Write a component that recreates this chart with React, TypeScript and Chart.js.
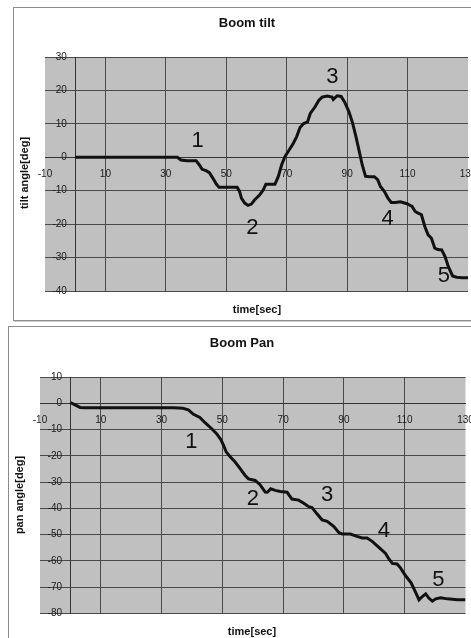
import React, { useEffect, useRef } from 'react';
import { Chart, registerables } from 'chart.js';

Chart.register(...registerables);

// ---------- data ----------
const xTickValues = [-10, 10, 30, 50, 70, 90, 110, 130];
const tiltYTickValues = [-40, -30, -20, -10, 0, 10, 20, 30];
const panYTickValues = [-80, -70, -60, -50, -40, -30, -20, -10, 0, 10];

const tiltTime = [0, 5, 10, 15, 20, 25, 30, 33.8, 35, 37, 40, 41.1, 42, 43.3, 44.4, 45.6, 46.7, 47.6, 50, 52, 53.6, 54.4, 55, 56.1, 57.2, 58.3, 59.4, 61.1, 62.2, 63.1, 64.5, 66.1, 67.2, 68.3, 69.4, 70.6, 72.2, 73.3, 74.4, 75.6, 76.9, 77.8, 79.4, 80.6, 81.7, 83.4, 85, 85.4, 86.7, 88, 89.2, 90.6, 91.7, 92.8, 93.9, 95, 96.1, 97.5, 99, 100.1, 101, 102.3, 103.5, 104.6, 106, 107.6, 109.8, 111.5, 112.5, 113.5, 114.6, 115.7, 116.8, 117.9, 119, 120, 121.3, 122.4, 123.5, 124.9, 126.2, 128, 130];
const tiltAngle = [0, 0, 0, 0, 0, 0, 0, 0, -0.8, -1, -1, -2.3, -3.6, -4, -4.6, -6.3, -8, -9, -9, -9, -9, -10.2, -12.2, -13.7, -14.4, -14, -12.7, -11.2, -9.8, -8.1, -8.1, -8.1, -5.8, -2.3, 0.2, 1.9, 4.2, 6.2, 8.9, 10.1, 10.6, 13.1, 15.1, 17, 18, 18.3, 18, 17.3, 18.4, 18.2, 16.5, 13.6, 10.6, 6.6, 2.2, -2.3, -5.7, -5.8, -5.8, -6.7, -8.7, -10.2, -12.2, -13.5, -13.5, -13.3, -13.9, -14.7, -16.2, -16.7, -17.2, -20.7, -23.2, -24.2, -27.2, -27.6, -27.7, -29.7, -32.7, -35.5, -35.9, -36, -36];

const panTime = [0, 1.5, 3.2, 5, 10, 15, 20, 25, 30, 34, 37, 38.8, 40.5, 42.6, 44.3, 46.5, 48.1, 49.5, 50.4, 51.2, 52.5, 54.2, 55.8, 57.5, 58.6, 60.8, 62.4, 64.1, 64.8, 65.9, 67.4, 69.1, 71.3, 72.9, 75.1, 76.8, 78.4, 79.5, 81.2, 82.8, 84.5, 86.7, 88.3, 89.4, 92.1, 94.3, 96, 97.6, 99.3, 101.5, 103.7, 104.8, 105.9, 107.5, 108.6, 110.3, 112.1, 113.6, 114.7, 115.8, 116.9, 118, 119.1, 120.2, 121.8, 124, 127.3, 130];
const panAngle = [0.3, -0.6, -1.6, -1.7, -1.7, -1.7, -1.7, -1.7, -1.7, -1.7, -1.9, -2.5, -4.2, -5.4, -7.4, -9.7, -11.6, -13.8, -16, -18.4, -20.3, -22.4, -24.8, -27.5, -28.8, -29.4, -31, -33.8, -33.9, -32.6, -33.2, -33.6, -33.9, -36.5, -36.9, -38.1, -39.4, -39.7, -42.2, -44.4, -45, -47, -49.2, -49.8, -49.8, -50.7, -51.3, -51.3, -52.6, -54.9, -57.2, -59.3, -61, -61.2, -62.7, -65.7, -68.4, -72, -74.9, -73.6, -72.6, -74.3, -75.4, -74.5, -74.1, -74.5, -74.8, -74.8];

const markLabels = ['1', '2', '3', '4', '5'];
const tiltMarkX = [40.5, 58.6, 85.1, 103.4, 122];
const tiltMarkY = [4.9, -21.2, 24, -18.5, -35.4];
const panMarkX = [39.8, 60, 84.5, 103.1, 121.1];
const panMarkY = [-14.9, -36.5, -35, -48.5, -67.3];

const FONT = '"Liberation Sans", Arial, Helvetica, sans-serif';

interface PanelSpec {
  title: string;
  xTitle: string;
  yTitle: string;
  time: number[];
  angle: number[];
  yTicks: number[];
  markX: number[];
  markY: number[];
  width: number;
  height: number;
  padding: { left: number; top: number; right: number; bottom: number };
  titlePos: [number, number];
  xTitlePos: [number, number];
  yTitlePos: [number, number];
}

function makeDecor(spec: PanelSpec) {
  return {
    id: 'decor',
    beforeDraw(chart: any) {
      const { ctx, chartArea: a } = chart;
      ctx.save();
      ctx.fillStyle = '#c0c0c0';
      ctx.fillRect(a.left, a.top, a.right - a.left, a.bottom - a.top);
      ctx.restore();
    },
    afterDatasetsDraw(chart: any) {
      const { ctx } = chart;
      const xs = chart.scales.x;
      const ys = chart.scales.y;
      ctx.save();
      ctx.fillStyle = '#111';
      ctx.textAlign = 'center';
      ctx.textBaseline = 'middle';
      ctx.font = '22px ' + FONT;
      markLabels.forEach((t, i) => {
        ctx.fillText(t, xs.getPixelForValue(spec.markX[i]), ys.getPixelForValue(spec.markY[i]));
      });
      ctx.font = 'bold 13px ' + FONT;
      ctx.fillText(spec.title, spec.titlePos[0], spec.titlePos[1]);
      ctx.font = 'bold 11px ' + FONT;
      ctx.fillText(spec.xTitle, spec.xTitlePos[0], spec.xTitlePos[1]);
      ctx.translate(spec.yTitlePos[0], spec.yTitlePos[1]);
      ctx.rotate(-Math.PI / 2);
      ctx.fillText(spec.yTitle, 0, 0);
      ctx.restore();
    },
  };
}

function Panel({ spec, style }: { spec: PanelSpec; style: React.CSSProperties }) {
  const ref = useRef<HTMLCanvasElement | null>(null);
  useEffect(() => {
    if (!ref.current) return;
    const xMin = xTickValues[0];
    const xMax = xTickValues[xTickValues.length - 1];
    const yMin = spec.yTicks[0];
    const yMax = spec.yTicks[spec.yTicks.length - 1];
    const chart = new Chart(ref.current, {
      type: 'line',
      data: {
        datasets: [
          {
            data: spec.time.map((t, i) => ({ x: t, y: spec.angle[i] })),
            borderColor: '#111',
            borderWidth: 3,
            pointRadius: 0,
            tension: 0,
            fill: false,
          },
        ],
      },
      options: {
        responsive: false,
        animation: false,
        events: [],
        layout: { padding: spec.padding },
        plugins: { legend: { display: false }, tooltip: { enabled: false }, title: { display: false } },
        scales: {
          x: {
            type: 'linear',
            min: xMin,
            max: xMax,
            position: { y: 0 } as any,
            ticks: {
              stepSize: xTickValues[1] - xTickValues[0],
              autoSkip: false,
              maxRotation: 0,
              padding: 3,
              color: '#1a1a1a',
              font: { family: FONT, size: 10 },
            },
            grid: {
              color: (c: any) =>
                c.tick && (c.tick.value === xMin || c.tick.value === xMax) ? 'rgba(0,0,0,0)' : '#4a4a4a',
              lineWidth: 1,
              tickLength: 8,
            },
            border: { display: true, color: '#333', width: 1 },
          },
          y: {
            type: 'linear',
            min: yMin,
            max: yMax,
            position: { x: 0 } as any,
            ticks: {
              stepSize: spec.yTicks[1] - spec.yTicks[0],
              autoSkip: false,
              color: '#1a1a1a',
              font: { family: FONT, size: 10 },
              // positioned axis draws labels flush at the axis; pad them off it
              callback: (v: any) => String(v) + '   ',
            },
            grid: { color: '#4a4a4a', lineWidth: 1, tickLength: 8 },
            border: { display: true, color: '#333', width: 1 },
          },
        },
      },
      plugins: [makeDecor(spec)],
    });
    return () => chart.destroy();
  }, [spec]);
  return (
    <div style={style}>
      <canvas ref={ref} width={spec.width} height={spec.height} style={{ display: 'block' }} />
    </div>
  );
}

const tiltSpec: PanelSpec = {
  title: 'Boom tilt',
  xTitle: 'time[sec]',
  yTitle: 'tilt angle[deg]',
  time: tiltTime,
  angle: tiltAngle,
  yTicks: tiltYTickValues,
  markX: tiltMarkX,
  markY: tiltMarkY,
  width: 469,
  height: 312,
  padding: { left: 31, top: 49, right: 15, bottom: 29 },
  titlePos: [233, 15],
  xTitlePos: [243, 302],
  yTitlePos: [11, 165],
};

const panSpec: PanelSpec = {
  title: 'Boom Pan',
  xTitle: 'time[sec]',
  yTitle: 'pan angle[deg]',
  time: panTime,
  angle: panAngle,
  yTicks: panYTickValues,
  markX: panMarkX,
  markY: panMarkY,
  width: 475,
  height: 320,
  padding: { left: 31, top: 50, right: 18.5, bottom: 33.7 },
  titlePos: [233, 16],
  xTitlePos: [243, 305],
  yTitlePos: [11, 168],
};

export default function App() {
  return (
    <div
      style={{
        position: 'fixed',
        left: 0,
        top: 0,
        width: 471,
        height: 638,
        overflow: 'hidden',
        background: '#fff',
      }}
    >
      <Panel
        spec={tiltSpec}
        style={{
          position: 'absolute',
          left: 13,
          top: 7,
          border: '1px solid #8c8c8c',
          borderRight: 'none',
          boxShadow: '1px 1px 0 #cfcfcf',
          background: '#fff',
        }}
      />
      <Panel
        spec={panSpec}
        style={{
          position: 'absolute',
          left: 8,
          top: 326,
          border: '1px solid #8c8c8c',
          borderRight: 'none',
          boxShadow: '1px 1px 0 #cfcfcf',
          background: '#fff',
        }}
      />
    </div>
  );
}
